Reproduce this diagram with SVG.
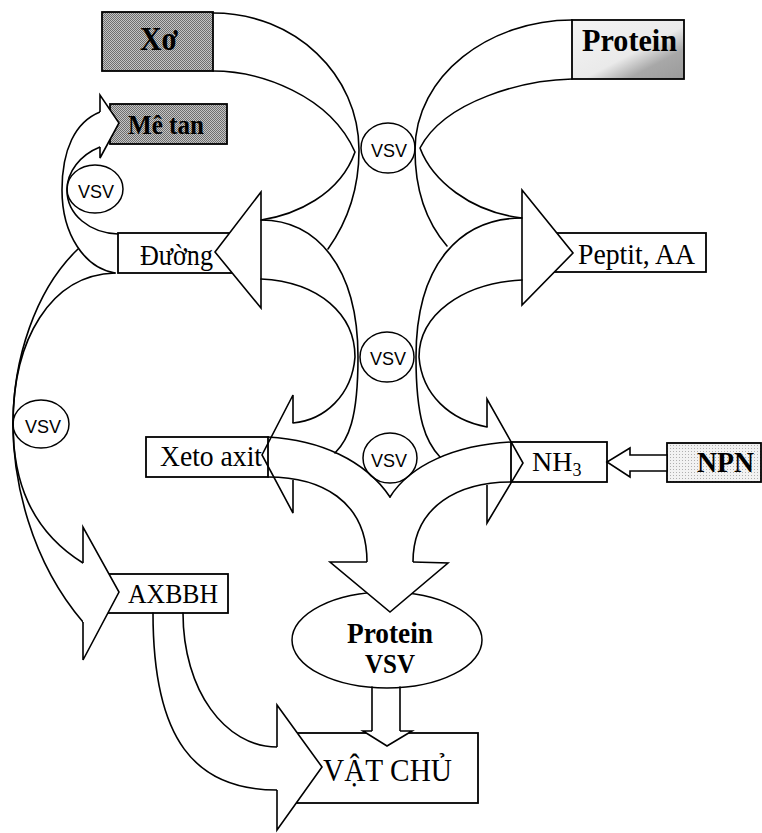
<svg xmlns="http://www.w3.org/2000/svg" width="762" height="833" viewBox="0 0 762 833">
<defs>
<pattern id="stipDark" width="2" height="2" patternUnits="userSpaceOnUse">
<rect width="2" height="2" fill="#c4c4c4"/>
<rect x="0" y="0" width="1" height="1" fill="#6e6e6e"/>
<rect x="1" y="1" width="1" height="1" fill="#6e6e6e"/>
</pattern>
<pattern id="stipLight" width="3" height="3" patternUnits="userSpaceOnUse">
<rect width="3" height="3" fill="#f2f2f2"/>
<rect x="1" y="1" width="1" height="1" fill="#b0b0b0"/>
</pattern>
<linearGradient id="protGrad" x1="0" y1="0" x2="1" y2="1">
<stop offset="0" stop-color="#f4f4f4"/>
<stop offset="0.55" stop-color="#eaeaea"/>
<stop offset="0.75" stop-color="#a8a8a8"/>
<stop offset="1" stop-color="#9a9a9a"/>
</linearGradient>
</defs>
<style>
.ln{fill:none;stroke:#000;stroke-width:1.6;stroke-linecap:round;stroke-linejoin:round}
.hd{fill:#fff;stroke:#000;stroke-width:1.6;stroke-linejoin:miter}
.hdo{fill:none;stroke:#000;stroke-width:1.6;stroke-linejoin:miter}
.box{fill:#fff;stroke:#000;stroke-width:1.8}
.circ{fill:#fff;stroke:#000;stroke-width:1.5}
.t{font-family:"Liberation Serif","Times New Roman",serif;fill:#000}
.b{font-weight:bold}
.vsv{font-family:"Liberation Sans",Arial,sans-serif;font-size:18px;text-anchor:middle;fill:#000}
</style>
<rect width="762" height="833" fill="#fff"/>

<g id="nodes">
<g id="xo">
<rect x="102" y="12" width="111" height="59" fill="url(#stipDark)" stroke="#000" stroke-width="1.8"/>
<text class="t b" x="140" y="50" font-size="33" textLength="38" lengthAdjust="spacingAndGlyphs">Xơ</text>
</g>
<g id="protein">
<rect x="572" y="20" width="112" height="59" fill="url(#protGrad)" stroke="#000" stroke-width="1.8"/>
<text class="t b" x="582" y="51" font-size="32" textLength="95" lengthAdjust="spacingAndGlyphs">Protein</text>
</g>
<g id="metan">
<rect x="110" y="104" width="117" height="40" fill="url(#stipDark)" stroke="#000" stroke-width="1.8"/>
<text class="t b" x="128" y="134" font-size="28" textLength="76" lengthAdjust="spacingAndGlyphs">Mê tan</text>
</g>
<g id="duong">
<rect class="box" x="118" y="233" width="125" height="40"/>
<text class="t" x="140" y="265" font-size="30" textLength="73" lengthAdjust="spacingAndGlyphs">Đường</text>
</g>
<g id="peptit">
<rect class="box" x="550" y="233" width="156" height="39"/>
<text class="t" x="578" y="264" font-size="30" textLength="117" lengthAdjust="spacingAndGlyphs">Peptit, AA</text>
</g>
<g id="xeto">
<rect class="box" x="146" y="437" width="122" height="40"/>
<text class="t" x="160" y="466" font-size="30" textLength="102" lengthAdjust="spacingAndGlyphs">Xeto axit</text>
</g>
<g id="nh3">
<rect class="box" x="511" y="442" width="96" height="40"/>
<text class="t" x="532" y="471" font-size="28">NH<tspan font-size="18" dy="5">3</tspan></text>
</g>
<g id="npn">
<rect x="667" y="443" width="94" height="39" fill="url(#stipLight)" stroke="#000" stroke-width="1.8"/>
<text class="t b" x="697" y="472" font-size="29" textLength="57" lengthAdjust="spacingAndGlyphs">NPN</text>
</g>
<g id="axbbh">
<rect class="box" x="107" y="574" width="121" height="39"/>
<text class="t" x="128" y="603" font-size="27" textLength="90" lengthAdjust="spacingAndGlyphs">AXBBH</text>
</g>
<g id="vatchu">
<rect class="box" x="297" y="733" width="181" height="70"/>
<text class="t" x="323" y="781" font-size="32" textLength="129" lengthAdjust="spacingAndGlyphs">VẬT CHỦ</text>
</g>
<g id="proteinvsv">
<ellipse class="circ" cx="387" cy="640" rx="95" ry="48" stroke-width="1.8"/>
<text class="t b" x="347" y="643" font-size="29" textLength="86" lengthAdjust="spacingAndGlyphs">Protein</text>
<text class="t b" x="365" y="673" font-size="27" textLength="50" lengthAdjust="spacingAndGlyphs">VSV</text>
</g>
<g id="vsv1">
<ellipse class="circ" cx="388" cy="148" rx="27" ry="25"/>
<text class="vsv" x="389" y="157">VSV</text>
</g>
<g id="vsv2">
<ellipse class="circ" cx="387" cy="357" rx="27" ry="25"/>
<text class="vsv" x="388" y="365">VSV</text>
</g>
<g id="vsv3">
<ellipse class="circ" cx="390" cy="458" rx="27" ry="25"/>
<text class="vsv" x="389" y="467">VSV</text>
</g>
<g id="vsv4">
<ellipse class="circ" cx="95" cy="189" rx="28" ry="24"/>
<text class="vsv" x="96" y="198">VSV</text>
</g>
<g id="vsv5">
<ellipse class="circ" cx="41" cy="424" rx="28" ry="24"/>
<text class="vsv" x="43" y="433">VSV</text>
</g>
</g>

<g id="connectors">
<!-- Xo -> Duong -->
<path class="ln" d="M213,13 C295,13 359,75 359,150 C359,195 343,228 328,249"/>
<path class="ln" d="M213,71 C260,71 330,95 355,152 C340,195 295,215 261,220"/>
<polygon class="hd" points="261,192 215,252 261,308"/>
<!-- Protein -> Peptit -->
<path class="ln" d="M572,20 C490,20 415,75 415,150 C415,195 428,224 447,246"/>
<path class="ln" d="M572,79 C525,80 445,100 420,148 C432,180 470,212 522,218"/>
<polygon class="hd" points="522,190 573,253 522,305"/>
<!-- Duong -> Xeto axit -->
<path class="ln" d="M261,220 C315,220 358,265 358,357 C358,420 348,440 335,453"/>
<path class="ln" d="M261,279 C320,282 355,315 355,357 C352,395 325,420 293,423"/>
<polyline class="hdo" points="293,423 293,395 262,455 293,513 293,480"/>
<!-- Peptit -> NH3 -->
<path class="ln" d="M522,218 C462,218 416,262 416,357 C416,420 426,442 440,457"/>
<path class="ln" d="M522,280 C462,283 419,315 419,357 C422,395 450,420 487,427"/>
<polyline class="hdo" points="487,427 487,399 523,463 487,523 487,485"/>
<!-- Xeto axit + NH3 -> Protein VSV -->
<path class="ln" d="M268,437 C320,440 365,460 390,497"/>
<path class="ln" d="M268,477 C320,477 367,500 367,562"/>
<path class="ln" d="M511,442 C455,445 410,465 390,497"/>
<path class="ln" d="M511,482 C460,482 413,505 413,562"/>
<polyline class="hd" points="367,562 330,562 390,612 448,563 413,562"/>
<!-- NPN -> NH3 -->
<polygon class="hd" points="667,455 630,455 630,448 607,462 630,477 630,471 667,471"/>
<!-- Duong -> Me tan -->
<path class="ln" d="M115,273 C85,268 62,235 62,190 C62,150 75,122 100,112"/>
<path class="ln" d="M118,234 C90,233 67,215 67,190 C67,172 80,155 100,147"/>
<polyline class="hd" points="100,112 100,95 119,123 100,158 100,147"/>
<!-- Duong -> AXBBH -->
<path class="ln" d="M78,249 C35,290 13,360 13,424 C13,480 30,560 83,622"/>
<path class="ln" d="M115,273 C50,275 13,340 13,424 C13,480 30,530 83,563"/>
<polyline class="hd" points="83,563 83,527 119,592 83,660 83,622"/>
<!-- AXBBH -> Vat chu -->
<path class="ln" d="M153,613 C153,740 195,790 277,790"/>
<path class="ln" d="M183,613 C183,690 225,747 277,747"/>
<polyline class="hd" points="277,747 277,705 322,767 277,830 277,790"/>
<!-- Protein VSV -> Vat chu -->
<path class="ln" d="M372,687 L372,732 M400,687 L400,732"/>
<polyline class="hd" points="372,731 363,731 387,746 412,731 400,731"/>
</g>
</svg>
